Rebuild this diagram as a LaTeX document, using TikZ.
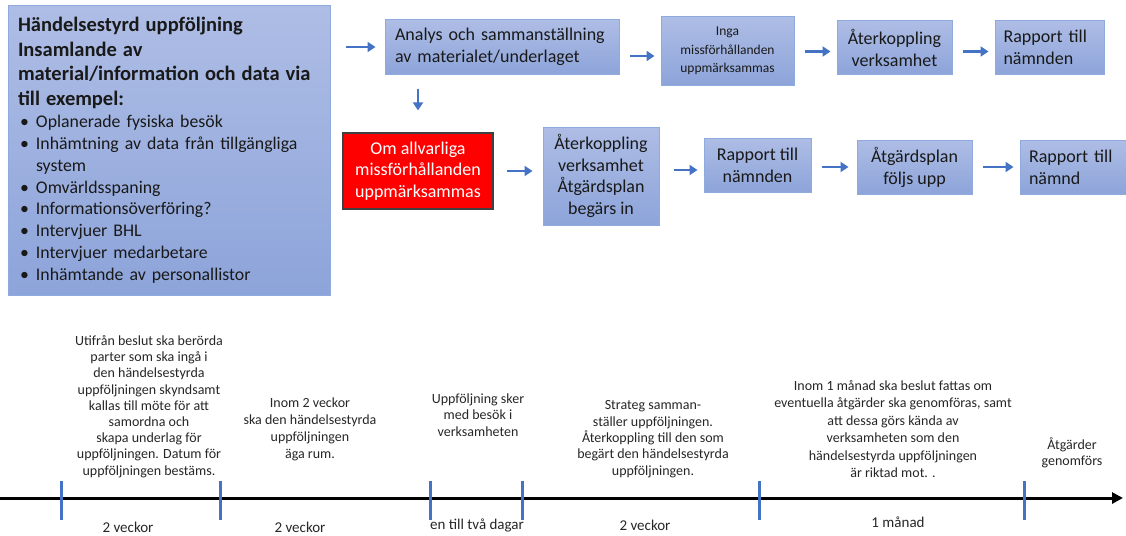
\documentclass[tikz,border=0pt]{standalone}
\usepackage{fontspec}
\setmainfont{Carlito}
\usepackage{tikz}
\usetikzlibrary{arrows.meta, calc, positioning}
\definecolor{flowblue}{HTML}{4472C4}
\definecolor{boxtop}{HTML}{AEBDE5}
\definecolor{boxbot}{HTML}{8DA4DA}
\definecolor{boxline}{HTML}{8FAADC}
\definecolor{alarmred}{HTML}{FF0000}
\newcommand{\bp}{\hspace*{2pt}\makebox[16pt][l]{\textbullet}}

\begin{document}
\begin{tikzpicture}[x=1pt, y=-1pt,
  stepbox/.style={draw=boxline, line width=1pt, top color=boxtop, bottom color=boxbot,
    text=black!90, inner sep=0pt, font=\fontsize{18}{22}\selectfont},
  alarm/.style={draw=black!75, line width=1.2pt, fill=alarmred, text=white,
    inner sep=0pt, font=\fontsize{18}{21.5}\selectfont, align=center},
  flow/.style={draw=flowblue, line width=2.8pt, -{Triangle[length=8pt,width=10pt]},
    shorten <=10pt, shorten >=6pt},
  tick/.style={draw=flowblue, line width=3pt},
  note/.style={align=center, font=\fontsize{14}{16.4}\selectfont, text=black!85},
  period/.style={font=\fontsize{15}{17}\selectfont, text=black!85}]
\useasboundingbox (0,0) rectangle (1126,535);

% start box
\node[stepbox, minimum width=322pt, minimum height=289pt, text width=302pt, align=left] (start) at (169,150.5) {%
  {\fontsize{20.5}{24.5}\selectfont\bfseries Händelsestyrd uppföljning\\ Insamlande av\\ material/information och data via\\ till exempel:\par}
  {\fontsize{17.8}{21.9}\selectfont
  \bp Oplanerade fysiska besök\\
  \bp Inhämtning av data från tillgängliga\\
  \hspace*{18pt}system\\
  \bp Omvärldsspaning\\
  \bp Informationsöverföring?\\
  \bp Intervjuer BHL\\
  \bp Intervjuer medarbetare\\
  \bp Inhämtande av personallistor\par}};

% first row
\node[stepbox, minimum width=234pt, minimum height=54pt, text width=214pt, align=left] (analys) at (502,47) {Analys och sammanställning\\ av materialet/underlaget};
\node[stepbox, minimum width=133pt, minimum height=68pt, align=center, font=\fontsize{13.5}{18.5}\selectfont] (inga) at (727.5,51) {Inga\\ missförhållanden\\ uppmärksammas};
\node[stepbox, minimum width=115pt, minimum height=53pt, align=center] (aterA) at (894.5,47.5) {Återkoppling\\ verksamhet};
\node[stepbox, minimum width=109pt, minimum height=53pt, text width=92pt, align=left] (rappA) at (1049.5,47.5) {Rapport till\\ nämnden};

% second row
\node[alarm, minimum width=150pt, minimum height=76pt] (alarm) at (418,171) {Om allvarliga\\ missförhållanden\\ uppmärksammas};
\node[stepbox, minimum width=116pt, minimum height=98pt, align=center, font=\fontsize{18}{21.7}\selectfont] (aterB) at (601,176) {Återkoppling\\ verksamhet\\ Åtgärdsplan\\ begärs in};
\node[stepbox, minimum width=107pt, minimum height=54pt, align=center] (rappB) at (757.5,165) {Rapport till\\ nämnden};
\node[stepbox, minimum width=115pt, minimum height=54pt, align=center] (plan) at (914.5,167) {Åtgärdsplan\\ följs upp};
\node[stepbox, minimum width=106pt, minimum height=54pt, text width=88pt, align=left] (rappC) at (1073,167) {Rapport till\\ nämnd};

% arrows
\draw[flow, shorten <=15pt, shorten >=9pt] (start.east |- analys.west) -- (analys.west);
\draw[flow, transform canvas={yshift=-5pt}] (analys.east |- inga.west) -- (inga.west);
\draw[flow, transform canvas={yshift=-4pt}] (inga.east |- aterA.west) -- (aterA.west);
\draw[flow, transform canvas={yshift=-4pt}] (aterA.east) -- (rappA.west);
\draw[flow, shorten <=14pt, shorten >=22pt] (analys.south -| alarm.north) -- (alarm.north);
\draw[flow, shorten <=13pt, shorten >=10pt] (alarm.east) -- (alarm.east -| aterB.west);
\coordinate (b1) at ($(aterB.east |- rappB.east)+(0,5)$);
\draw[flow, shorten <=14pt] (b1) -- (b1 -| rappB.west);
\draw[flow, shorten >=8pt] (rappB.east |- plan.west) -- (plan.west);
\draw[flow] (plan.east) -- (rappC.west);

% timeline
\coordinate (tlstart) at (0,498);
\coordinate (tlend) at (1123,498);
\draw[line width=3pt, -{Triangle[length=11pt,width=11pt]}] (tlstart) -- (tlend);
\foreach \tx/\tname in {61/t1, 220/t2, 430/t3, 522/t4, 759/t5, 1024/t6}{
  \coordinate (\tname) at (\tx,498);
  \draw[tick] (\tx,481) -- (\tx,520);
}

\node[period] (p1) at (128,527) {2 veckor};
\node[period] (p2) at (300,527) {2 veckor};
\node[period] (p3) at (477,525) {en till två dagar};
\node[period] (p4) at (645,525) {2 veckor};
\node[period] (p5) at (898,522) {1 månad};

\node[note, anchor=north, font=\fontsize{14}{16.2}\selectfont] (n1) at (149,332) {Utifrån beslut ska berörda\\ parter som ska ingå i\\ den händelsestyrda\\ uppföljningen skyndsamt\\ kallas till möte för att\\ samordna och\\ skapa underlag för\\ uppföljningen. Datum för\\ uppföljningen bestäms.};
\node[note, anchor=north, font=\fontsize{14}{17}\selectfont] (n2) at (310,394) {Inom 2 veckor\\ ska den händelsestyrda\\ uppföljningen\\ äga rum.};
\node[note, anchor=north] (n3) at (478,390) {Uppföljning sker\\ med besök i\\ verksamheten};
\node[note, anchor=north] (n4) at (653,397) {Strateg samman-\\ ställer uppföljningen.\\ Återkoppling till den som\\ begärt den händelsestyrda\\ uppföljningen.};
\node[note, anchor=north, font=\fontsize{14}{17.4}\selectfont] (n5) at (893,377) {Inom 1 månad ska beslut fattas om\\ eventuella åtgärder ska genomföras, samt\\ att dessa görs kända av\\ verksamheten som den\\ händelsestyrda uppföljningen\\ är riktad mot. .};
\node[note, anchor=north] (n6) at (1072,434) {Åtgärder\\ genomförs};
\end{tikzpicture}
\end{document}
